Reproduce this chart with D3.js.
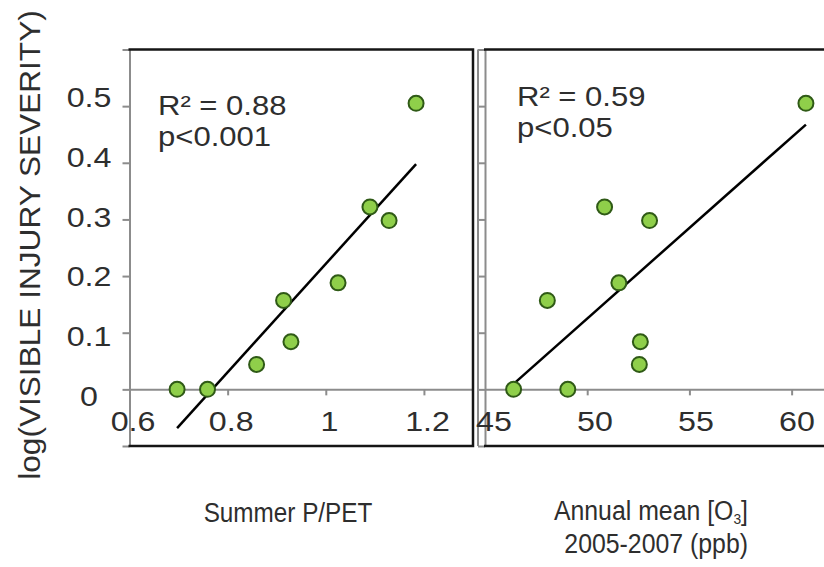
<!DOCTYPE html>
<html>
<head>
<meta charset="utf-8">
<script src="https://cdn.jsdelivr.net/npm/d3@7"></script>
<style>
  body { margin: 0; background: #fff; }
  svg { display: block; }
  text { font-family: "Liberation Sans", Arial, Helvetica, sans-serif; fill: #2e2e2e; }
</style>
</head>
<body>
<svg id="chart" width="824" height="567"></svg>
<script>
// site values, same order in every array
const severity = [0, 0, 0.044, 0.084, 0.157, 0.188, 0.322, 0.298, 0.505];
const summerPPET = [0.697, 0.759, 0.859, 0.929, 0.914, 1.025, 1.09, 1.129, 1.184];
const annualO3 = [46.4, 49.05, 52.55, 52.6, 48.05, 51.55, 50.85, 53.05, 60.7];

const yTicks = [-0.1, 0, 0.1, 0.2, 0.3, 0.4, 0.5, 0.6];
const yTickLabels = [0, 0.1, 0.2, 0.3, 0.4, 0.5];
const ppetTicks = [0.6, 0.8, 1, 1.2];
const o3Ticks = [45, 50, 55, 60];
const statsPPET = ['R² = 0.88', 'p<0.001'];
const statsO3 = ['R² = 0.59', 'p<0.05'];

const svg = d3.select('#chart');
const gray = '#8c8c8c';
const frame = '#151515';

const y = d3.scaleLinear().domain([-0.1, 0.6]).range([446, 49.5]);
// tick labels sit a little wider apart than the ticks in the original
const yLab = d3.scaleLinear().domain([0, 0.5]).range([396, 97]);

// text with a horizontal stretch, like the original lettering
function txt(g, x, yy, s, size, sx, anchor, rot) {
  return g.append('text')
    .attr('transform', `translate(${x},${yy})${rot ? ' rotate(' + rot + ')' : ''} scale(${sx},1)`)
    .attr('text-anchor', anchor || 'middle')
    .style('font-size', size + 'px')
    .text(s);
}

function fit(xs, ys) {
  const mx = d3.mean(xs), my = d3.mean(ys);
  const sxy = d3.sum(xs, (v, i) => (v - mx) * (ys[i] - my));
  const sxx = d3.sum(xs, v => (v - mx) * (v - mx));
  const b = sxy / sxx;
  return v => my + b * (v - mx);
}

function panel(opts) {
  const x = d3.scaleLinear().domain(opts.domain).range(opts.range);
  const ticks = opts.ticks;
  const xLab = d3.scaleLinear().domain([ticks[0], ticks[ticks.length - 1]]).range(opts.labRange);
  const g = svg.append('g');
  const x0 = x(opts.domain[0]), x1 = x(opts.domain[1]);

  // y axis (gray) with outward ticks
  g.append('g')
    .attr('transform', `translate(${x0},0)`)
    .call(d3.axisLeft(y).tickValues(yTicks).tickSize(7).tickSizeOuter(0).tickFormat(''))
    .call(a => a.selectAll('path, line').attr('stroke', gray).attr('stroke-width', 2));

  // x axis along y = 0
  g.append('g')
    .attr('transform', `translate(0,${y(0)})`)
    .call(d3.axisBottom(x).tickValues(ticks.slice(1)).tickSize(6).tickSizeOuter(0).tickFormat(''))
    .call(a => a.selectAll('path, line').attr('stroke', gray).attr('stroke-width', 2));

  if (opts.innerEdge) {
    g.append('line')
      .attr('x1', x0 - 7).attr('x2', x0 - 7)
      .attr('y1', y(0.6)).attr('y2', y(-0.1))
      .attr('stroke', gray).attr('stroke-width', 2);
  }

  // frame: top, bottom, right
  g.append('path')
    .attr('d', `M${x0 - 1},${y(0.6)}H${x1}V${y(-0.1)}H${x0 - 1}`)
    .attr('fill', 'none')
    .attr('stroke', frame)
    .attr('stroke-width', 2.5);

  // tick labels
  ticks.forEach(t => {
    txt(g, xLab(t), 431, String(t), 28, 1.15);
  });

  // regression line
  const f = fit(opts.xs, severity);
  const ext = d3.extent(opts.xs);
  g.append('line')
    .attr('x1', x(ext[0])).attr('y1', y(f(ext[0])))
    .attr('x2', x(ext[1])).attr('y2', y(f(ext[1])))
    .attr('stroke', '#000')
    .attr('stroke-width', 2.5);

  // points
  g.selectAll('circle')
    .data(opts.xs.map((v, i) => [v, severity[i]]))
    .enter()
    .append('circle')
    .attr('cx', d => x(d[0]))
    .attr('cy', d => y(d[1]))
    .attr('r', 7.5)
    .attr('fill', '#8fcf4a')
    .attr('stroke', '#2f5a16')
    .attr('stroke-width', 2);

  // stats
  txt(g, opts.statsX, opts.statsY, opts.stats[0], 27, 1.15, 'start');
  txt(g, opts.statsX, opts.statsY + 31, opts.stats[1], 27, 1.15, 'start');
}

panel({
  xs: summerPPET, domain: [0.6, 1.3], range: [129.5, 473], labRange: [133, 427.5],
  ticks: ppetTicks, stats: statsPPET, statsX: 158, statsY: 115
});

panel({
  xs: annualO3, domain: [45, 62], range: [485, 832.5], labRange: [494, 797],
  ticks: o3Ticks, stats: statsO3, statsX: 517, statsY: 106, innerEdge: true
});

// y tick labels
yTickLabels.forEach(t => {
  txt(svg, 89, yLab(t) + 10, String(t), 28, 1.15);
});

// axis titles
txt(svg, 40, 245, 'log(VISIBLE INJURY SEVERITY)', 29, 1.09, 'middle', -90);
txt(svg, 288, 522, 'Summer P/PET', 27, 0.9);

const o3 = txt(svg, 748, 520, 'Annual mean [O', 27, 0.92, 'end');
o3.append('tspan').attr('dy', 4).style('font-size', '15px').text('3');
o3.append('tspan').attr('dy', -4).text(']');
txt(svg, 748, 553, '2005-2007 (ppb)', 27, 0.92, 'end');
</script>
</body>
</html>
